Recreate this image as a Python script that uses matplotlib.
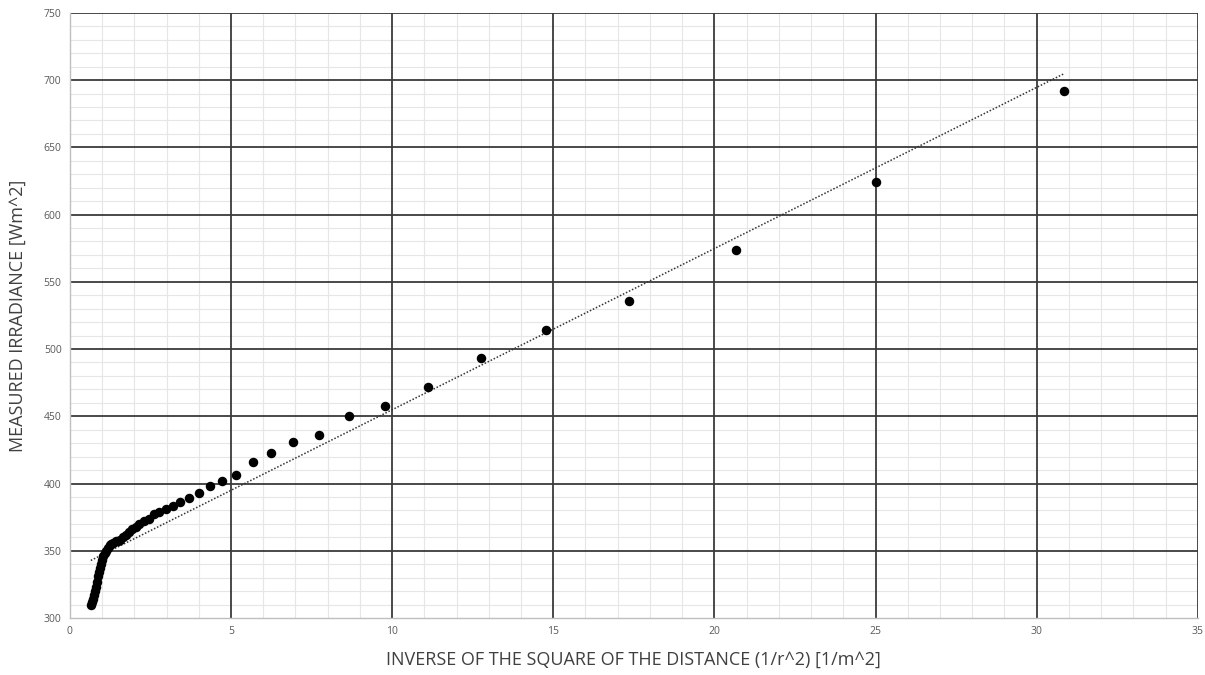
import numpy as np
import matplotlib
matplotlib.use("Agg")
import matplotlib.pyplot as plt
from matplotlib.ticker import MultipleLocator, FixedLocator

plt.rcParams['font.family'] = ['Open Sans', 'DejaVu Sans']

# inverse square of distance [1/m^2]
inv_r2 = [30.86, 25.00, 20.66, 17.36, 14.79, 12.76, 11.11, 9.77, 8.65, 7.72,
          6.93, 6.25, 5.67, 5.17, 4.73, 4.34, 4.00, 3.70, 3.43, 3.19,
          2.97, 2.78, 2.60, 2.44, 2.30, 2.16, 2.04, 1.93, 1.83, 1.73,
          1.64, 1.56, 1.49, 1.42, 1.35, 1.29, 1.23, 1.18, 1.13, 1.09,
          1.04, 1.00, 0.96, 0.92, 0.89, 0.86, 0.83, 0.80, 0.77, 0.74,
          0.72, 0.69, 0.65]
# measured irradiance [W/m^2]
irradiance = [692, 624, 574, 536, 514, 493, 472, 458, 450, 436,
              431, 423, 416, 406, 402, 398, 393, 389, 386, 383,
              381, 379, 377, 374, 372, 370, 368, 366, 364, 362,
              360, 358, 357, 357, 356, 355, 354, 352, 350, 348,
              346, 343, 340, 337, 334, 331, 327, 323, 320, 317,
              314, 312, 310]

x = np.array(inv_r2)
y = np.array(irradiance)

fig = plt.figure(figsize=(12.05, 6.75), dpi=100)
ax = fig.add_axes([0.058, 0.0844, 0.936, 0.8966])

ax.set_xlim(0, 35)
ax.set_ylim(300, 750)
ax.xaxis.set_major_locator(MultipleLocator(5))
ax.yaxis.set_major_locator(MultipleLocator(50))
ax.xaxis.set_minor_locator(MultipleLocator(1))
ax.yaxis.set_minor_locator(MultipleLocator(10))

# light minor grid, dark major lines drawn above it
ax.grid(which='minor', color='#e6e6e6', linewidth=0.8, zorder=0)
ax.set_axisbelow(True)
for xv in ax.get_xticks():
    if 0 < xv <= 35:
        ax.axvline(xv, color='#3a3a3a', linewidth=1.3, zorder=1)
for yv in ax.get_yticks():
    if 300 < yv <= 750:
        ax.axhline(yv, color='#3a3a3a', linewidth=1.3, zorder=1)

for s in ax.spines.values():
    s.set_color('#bfbfbf')
    s.set_linewidth(1.0)
ax.spines['top'].set_visible(False)
ax.spines['right'].set_visible(False)

ax.tick_params(which='both', length=0, labelsize=7.5, colors='#595959', pad=6)

# linear trend line
coef = np.polyfit(x, y, 1)
xt = np.array([x.min(), x.max()])
ax.plot(xt, np.polyval(coef, xt), color='#333333', linestyle=(0, (1, 1.2)),
        linewidth=1.1, zorder=2)

ax.scatter(x, y, s=34, color='black', zorder=3)

ax.set_xlabel('INVERSE OF THE SQUARE OF THE DISTANCE (1/r^2) [1/m^2]',
              fontsize=13, color='#404040', labelpad=10)
ax.set_ylabel('MEASURED IRRADIANCE [Wm^2]', fontsize=13, color='#404040', labelpad=12)

fig.savefig('out.png', dpi=100)
